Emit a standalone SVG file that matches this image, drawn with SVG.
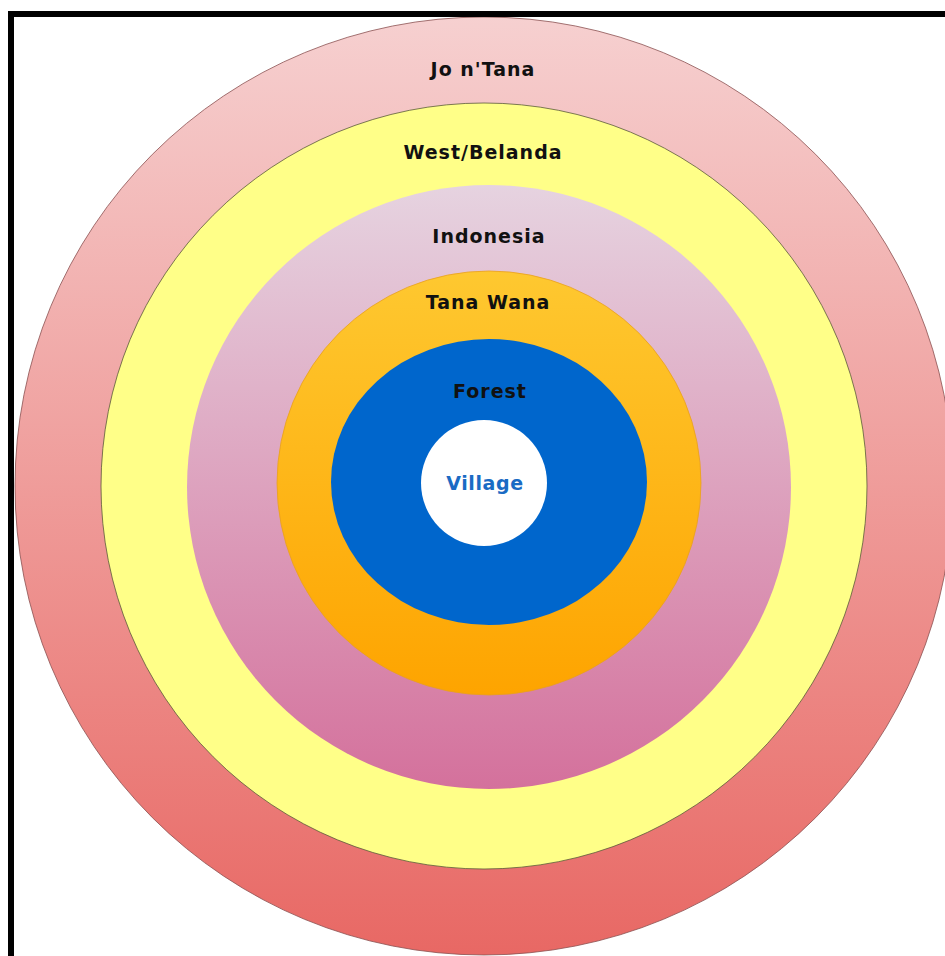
<svg xmlns="http://www.w3.org/2000/svg" width="945" height="956" viewBox="0 0 945 956">
<defs>
<linearGradient id="gPink" x1="0" y1="0" x2="0" y2="1">
<stop offset="0" stop-color="#f6d0d0"/>
<stop offset="1" stop-color="#e86864"/>
</linearGradient>
<linearGradient id="gPurple" x1="0" y1="0" x2="0" y2="1">
<stop offset="0" stop-color="#e6d3e0"/>
<stop offset="1" stop-color="#d4719c"/>
</linearGradient>
<linearGradient id="gOrange" x1="0" y1="0" x2="0" y2="1">
<stop offset="0" stop-color="#fec830"/>
<stop offset="1" stop-color="#fea400"/>
</linearGradient>
<style>
.lbl{font-family:"DejaVu Sans",Verdana,sans-serif;font-weight:bold;font-size:19px;letter-spacing:1px;text-anchor:middle;fill:#111}
</style>
</defs>
<rect width="945" height="956" fill="#fff"/>
<g id="jo-ntana">
<circle cx="484" cy="486" r="469" fill="url(#gPink)" stroke="#8a5050" stroke-width="0.8"/>
<text class="lbl" x="483" y="76">Jo n'Tana</text>
</g>
<g id="west-belanda">
<circle cx="484" cy="486" r="383" fill="#ffff88" stroke="#5a5a3a" stroke-width="0.8"/>
<text class="lbl" x="483" y="159">West/Belanda</text>
</g>
<g id="indonesia">
<circle cx="489" cy="487" r="302" fill="url(#gPurple)"/>
<text class="lbl" x="489" y="243">Indonesia</text>
</g>
<g id="tana-wana">
<circle cx="489" cy="483" r="212" fill="url(#gOrange)" stroke="#e8a020" stroke-width="0.8"/>
<text class="lbl" x="488" y="309">Tana Wana</text>
</g>
<g id="forest">
<ellipse cx="489" cy="482" rx="158" ry="143" fill="#0066cc"/>
<text class="lbl" x="490" y="398">Forest</text>
</g>
<g id="village">
<circle cx="484" cy="483" r="63" fill="#ffffff"/>
<text class="lbl" x="485" y="490" style="fill:#1a6bc4;font-size:19px;letter-spacing:0.6px">Village</text>
</g>
<g id="connectors"></g>
<path d="M11 956 V14 H945" fill="none" stroke="#000" stroke-width="6"/>
</svg>
